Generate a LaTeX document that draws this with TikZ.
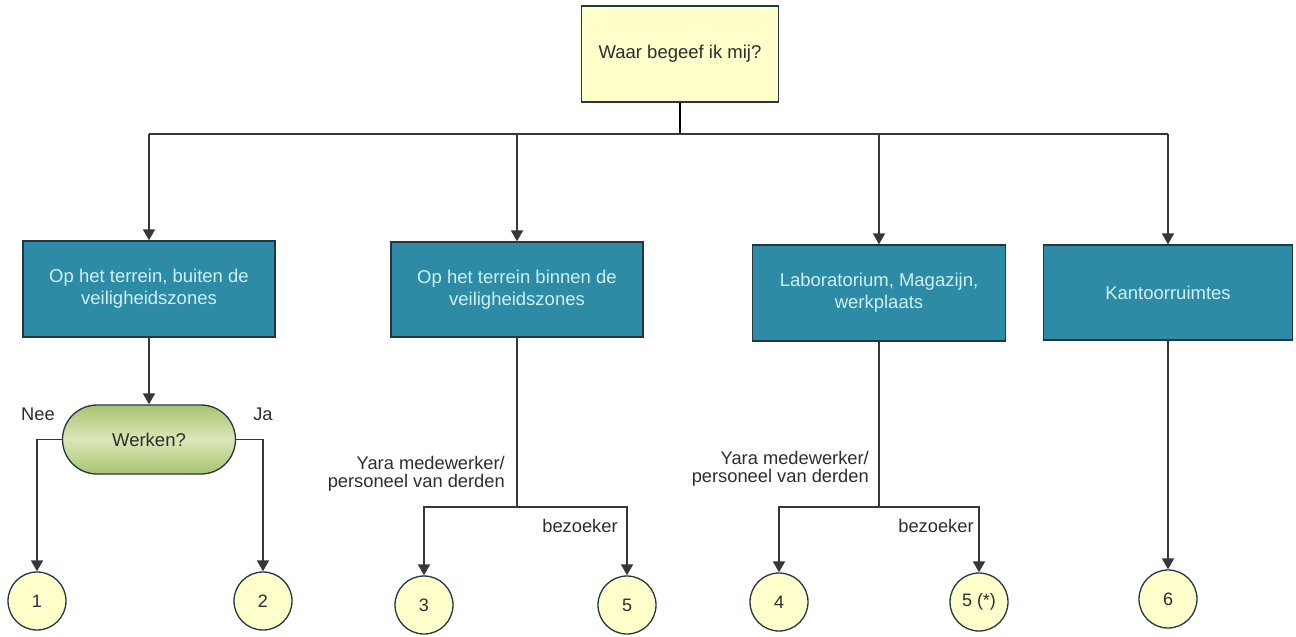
\documentclass[tikz,border=0pt]{standalone}
\usepackage{fontspec}
\setmainfont{Liberation Sans}
\usetikzlibrary{arrows.meta,shapes.misc}
\definecolor{boxteal}{RGB}{46,139,165}
\definecolor{boxedge}{RGB}{35,55,65}
\definecolor{boxtext}{RGB}{205,240,245}
\definecolor{paleyellow}{RGB}{255,255,204}
\definecolor{linegray}{RGB}{55,55,55}
\definecolor{labelgray}{RGB}{45,45,45}
\definecolor{ovdark}{RGB}{168,196,112}
\definecolor{ovlight}{RGB}{218,230,184}
\begin{document}
\begin{tikzpicture}[x=1pt,y=-1pt,
  conn/.style={draw=linegray, line width=1.8pt},
  arr/.style={conn, -{Triangle[width=12pt,length=11pt]}},
  topstem/.style={draw=black, line width=2.6pt},
  tbox/.style={draw=boxedge, line width=1.3pt, fill=boxteal, text=boxtext,
    minimum height=96pt, align=center, inner sep=0pt,
    font=\fontsize{18.5}{22}\selectfont},
  qbox/.style={draw=boxedge, line width=1.3pt, fill=paleyellow, text=labelgray,
    minimum width=197pt, minimum height=96pt, inner sep=0pt,
    font=\fontsize{18.5}{22}\selectfont},
  endcirc/.style={circle, draw=boxedge, line width=1.3pt, fill=paleyellow,
    text=labelgray, minimum size=58pt, inner sep=0pt,
    font=\fontsize{18}{21}\selectfont},
  decide/.style={rounded rectangle, draw=boxedge, line width=1.3pt,
    top color=ovdark, bottom color=ovdark, middle color=ovlight,
    text=labelgray, minimum width=173pt, minimum height=69pt, inner sep=0pt,
    font=\fontsize{18.5}{22}\selectfont},
  lbl/.style={text=labelgray, inner sep=0pt,
    font=\fontsize{18.3}{18.5}\selectfont}
]
\useasboundingbox (0,0) rectangle (1296,637);

% top question
\node[qbox] (top) at (680,54) {Waar begeef ik mij?};

% category boxes
\node[tbox, minimum width=252pt] (b1) at (149,289)
  {Op het terrein, buiten de\\veiligheidszones};
\node[tbox, minimum width=252pt, minimum height=95pt] (b2) at (517,289.5)
  {Op het terrein binnen de\\veiligheidszones};
\node[tbox, minimum width=253pt] (b3) at (879,293)
  {Laboratorium, Magazijn,\\werkplaats};
\node[tbox, minimum width=249pt, minimum height=95pt] (b4) at (1168,292.5)
  {Kantoorruimtes};

% decision
\node[decide] (ov) at (149,439.5) {Werken?};

% end circles
\node[endcirc] (c1) at (37,601) {1};
\node[endcirc] (c2) at (263,601) {2};
\node[endcirc] (c3) at (424,605) {3};
\node[endcirc] (c5) at (627,605) {5};
\node[endcirc] (c4) at (779,602) {4};
\node[endcirc] (c5s) at (979,602) {5 (*)};
\node[endcirc] (c6) at (1168,599) {6};

% labels
\node[lbl, anchor=base] (nee) at (38,420) {Nee};
\node[lbl, anchor=base] (ja) at (263,420) {Ja};
\node[lbl, anchor=east, align=right] (y1) at (505,474)
  {Yara medewerker/\\personeel van derden};
\node[lbl, anchor=east, align=right] (y2) at (869,469)
  {Yara medewerker/\\personeel van derden};
\node[lbl] (bz1) at (580,526) {bezoeker};
\node[lbl] (bz2) at (936,526) {bezoeker};

% top distribution
\coordinate (j) at (680,134);
\draw[topstem] (top.south) -- (j);
\draw[conn] (b1.north |- j) -- (b4.north |- j);
\draw[arr] (b1.north |- j) -- (b1.north);
\draw[arr] (b2.north |- j) -- (b2.north);
\draw[arr] (b3.north |- j) -- (b3.north);
\draw[arr] (b4.north |- j) -- (b4.north);

% branch 1
\draw[arr] (b1.south) -- (ov.north);
\draw[arr] (ov.west) -| (c1.north);
\draw[arr] (ov.east) -| (c2.north);

% branch 2
\coordinate (j2) at (517,507);
\draw[conn] (b2.south) -- (j2);
\draw[arr] (j2) -| (c3.north);
\draw[arr] (j2) -| (c5.north);

% branch 3
\coordinate (j3) at (879,507);
\draw[conn] (b3.south) -- (j3);
\draw[arr] (j3) -| (c4.north);
\draw[arr] (j3) -| (c5s.north);

% branch 4
\draw[arr] (b4.south) -- (c6.north);
\end{tikzpicture}
\end{document}
